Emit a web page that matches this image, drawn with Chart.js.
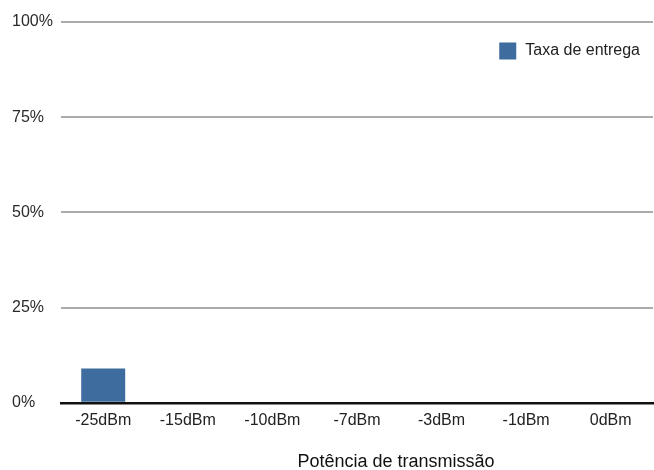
<!DOCTYPE html>
<html lang="pt">

<head>
    <meta charset="UTF-8">
    <title>Taxa de entrega</title>
    <script src="https://cdn.jsdelivr.net/npm/chart.js@4.4.1/dist/chart.umd.min.js"></script>
    <style>
        html, body { margin: 0; padding: 0; background: #fff; }
        .grafico { width: 654px; height: 470px; }
    </style>
</head>

<body>
    <div class="grafico">
        <canvas id="graficoEntrega" width="654" height="470"></canvas>
    </div>

<script>

// dados do gráfico
const potencias = ['-25dBm', '-15dBm', '-10dBm', '-7dBm', '-3dBm', '-1dBm', '0dBm'];
const taxaEntrega = [9, 0, 0, 0, 0, 0, 0];
const ticksY = [0, 25, 50, 75, 100];
const tituloX = 'Potência de transmissão';
const nomeSerie = 'Taxa de entrega';

const fonte = '"Liberation Sans", Arial, Helvetica, sans-serif';

// legenda dentro da área do gráfico, no canto superior direito
const legendaInterna = {
    id: 'legendaInterna',
    afterDraw(chart) {
        const ctx = chart.ctx;
        const area = chart.chartArea;
        const ds = chart.data.datasets[0];
        ctx.save();
        ctx.font = '16px ' + fonte;
        const largura = ctx.measureText(ds.label).width;
        const xTexto = area.right - 13 - largura;
        const yMeio = area.top + 29;
        ctx.fillStyle = ds.backgroundColor;
        ctx.fillRect(xTexto - 26, yMeio - 8.5, 17, 17);
        ctx.fillStyle = '#222';
        ctx.textBaseline = 'middle';
        ctx.fillText(ds.label, xTexto, yMeio);
        ctx.restore();
    }
};

// título do eixo x, um pouco deslocado para a direita
const tituloEixoX = {
    id: 'tituloEixoX',
    afterDraw(chart) {
        const ctx = chart.ctx;
        const area = chart.chartArea;
        ctx.save();
        ctx.font = '18px ' + fonte;
        ctx.fillStyle = '#111';
        ctx.textAlign = 'center';
        ctx.textBaseline = 'alphabetic';
        ctx.fillText(tituloX, (area.left + area.right) / 2 + 39, chart.height - 3);
        ctx.restore();
    }
};

const dados = {
    labels: potencias,
    datasets: [{
        label: nomeSerie,
        data: taxaEntrega,
        backgroundColor: '#3e6c9e',
        borderWidth: 0,
        categoryPercentage: 1,
        barPercentage: 0.52
    }]
};

const config = {
    type: 'bar',
    data: dados,
    options: {
        responsive: false,
        animation: false,
        layout: {
            padding: { top: 22, right: 1, bottom: 32, left: 12 }
        },
        plugins: {
            legend: { display: false },
            tooltip: { enabled: false }
        },
        scales: {
            x: {
                grid: { display: false, drawTicks: false },
                border: { display: true, color: '#111', width: 2.5 },
                ticks: {
                    color: '#222',
                    padding: 8,
                    maxRotation: 0,
                    font: { family: fonte, size: 16 }
                }
            },
            y: {
                min: 0,
                max: 100,
                afterBuildTicks(escala) {
                    escala.ticks = ticksY.map(v => ({ value: v }));
                },
                grid: {
                    drawTicks: false,
                    color: (c) => c.tick && c.tick.value === 0 ? 'rgba(0,0,0,0)' : '#ababab',
                    lineWidth: 2
                },
                border: { display: false },
                ticks: {
                    color: '#2a2a2a',
                    padding: 4,
                    crossAlign: 'far',
                    font: { family: fonte, size: 16 },
                    callback: (v) => v + '%'
                }
            }
        }
    },
    plugins: [legendaInterna, tituloEixoX]
};

let meuGrafico = new Chart(document.getElementById('graficoEntrega'), config);

</script>
</body>

</html>
